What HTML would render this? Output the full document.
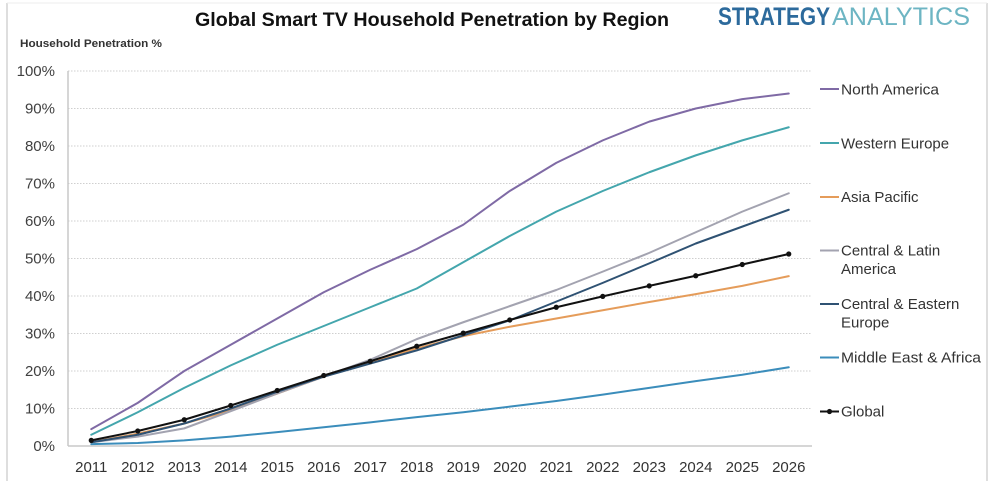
<!DOCTYPE html>
<html>
<head>
<meta charset="utf-8">
<style>
html,body{margin:0;padding:0;background:#fff;}
svg{display:block;}
text{font-family:"Liberation Sans",Arial,sans-serif;}
</style>
</head>
<body>
<svg width="1000" height="489" viewBox="0 0 1000 489" xmlns="http://www.w3.org/2000/svg">
  <rect width="1000" height="489" fill="#fff"/>
  <!-- frame -->
  <line x1="7" y1="3" x2="7" y2="481" stroke="#d4d4d4" stroke-width="1.5"/>
  <line x1="987" y1="3" x2="987" y2="481" stroke="#d4d4d4" stroke-width="1.5"/>
  <line x1="7" y1="3" x2="987" y2="3" stroke="#eeeeee" stroke-width="1"/>

  <!-- title -->
  <text x="195" y="26" font-size="19" font-weight="bold" fill="#111" textLength="474" lengthAdjust="spacingAndGlyphs">Global Smart TV Household Penetration by Region</text>
  <text x="718" y="25" font-size="25" font-weight="bold" fill="#2c6a9c" textLength="112" lengthAdjust="spacingAndGlyphs">STRATEGY</text>
  <text x="832" y="25" font-size="25" fill="#6db5c3" textLength="138" lengthAdjust="spacingAndGlyphs">ANALYTICS</text>
  <text x="20" y="47" font-size="11" font-weight="bold" fill="#333" textLength="142" lengthAdjust="spacingAndGlyphs">Household Penetration %</text>

  <!-- gridlines -->
  <g stroke="#cfcfcf" stroke-width="1" stroke-dasharray="1.5,1.5">
    <line x1="68" y1="71" x2="812" y2="71"/>
    <line x1="68" y1="108.5" x2="812" y2="108.5"/>
    <line x1="68" y1="146" x2="812" y2="146"/>
    <line x1="68" y1="183.5" x2="812" y2="183.5"/>
    <line x1="68" y1="221" x2="812" y2="221"/>
    <line x1="68" y1="258.5" x2="812" y2="258.5"/>
    <line x1="68" y1="296" x2="812" y2="296"/>
    <line x1="68" y1="333.5" x2="812" y2="333.5"/>
    <line x1="68" y1="371" x2="812" y2="371"/>
    <line x1="68" y1="408.5" x2="812" y2="408.5"/>
  </g>
  <line x1="68" y1="71" x2="68" y2="446" stroke="#c8c8c8" stroke-width="1.5"/>
  <line x1="68" y1="446" x2="812" y2="446" stroke="#c8c8c8" stroke-width="1.5"/>

  <!-- y labels -->
  <g font-size="15" fill="#404040" text-anchor="end">
    <text x="55" y="76">100%</text>
    <text x="55" y="113.5">90%</text>
    <text x="55" y="151">80%</text>
    <text x="55" y="188.5">70%</text>
    <text x="55" y="226">60%</text>
    <text x="55" y="263.5">50%</text>
    <text x="55" y="301">40%</text>
    <text x="55" y="338.5">30%</text>
    <text x="55" y="376">20%</text>
    <text x="55" y="413.5">10%</text>
    <text x="55" y="451">0%</text>
  </g>
  <!-- x labels -->
  <g font-size="15" fill="#333" text-anchor="middle">
    <text x="91.25" y="472">2011</text>
    <text x="137.75" y="472">2012</text>
    <text x="184.25" y="472">2013</text>
    <text x="230.75" y="472">2014</text>
    <text x="277.25" y="472">2015</text>
    <text x="323.75" y="472">2016</text>
    <text x="370.25" y="472">2017</text>
    <text x="416.75" y="472">2018</text>
    <text x="463.25" y="472">2019</text>
    <text x="509.75" y="472">2020</text>
    <text x="556.25" y="472">2021</text>
    <text x="602.75" y="472">2022</text>
    <text x="649.25" y="472">2023</text>
    <text x="695.75" y="472">2024</text>
    <text x="742.25" y="472">2025</text>
    <text x="788.75" y="472">2026</text>
  </g>

  <!-- series (data coords) -->
  <g transform="translate(91.25,446) scale(46.5,-3.75)" fill="none" stroke-width="2" stroke-linejoin="round" stroke-linecap="round">
    <!-- Middle East & Africa -->
    <polyline vector-effect="non-scaling-stroke" stroke="#3b8dbb" points="0,0.5 1,0.8 2,1.5 3,2.5 4,3.7 5,5 6,6.3 7,7.7 8,9 9,10.5 10,12 11,13.7 12,15.5 13,17.3 14,19 15,21"/>
    <!-- Asia Pacific -->
    <polyline vector-effect="non-scaling-stroke" stroke="#e59c5a" points="0,1 1,3.3 2,6 3,9.5 4,14 5,18.5 6,22.4 7,26 8,29.3 9,31.8 10,34 11,36.2 12,38.4 13,40.5 14,42.7 15,45.3"/>
    <!-- Central & Latin America -->
    <polyline vector-effect="non-scaling-stroke" stroke="#a3a3b0" points="0,1 1,2.5 2,4.7 3,9.3 4,14 5,18.5 6,23 7,28.5 8,33 9,37.3 10,41.6 11,46.5 12,51.5 13,57 14,62.5 15,67.4"/>
    <!-- Central & Eastern Europe -->
    <polyline vector-effect="non-scaling-stroke" stroke="#2f5273" points="0,1 1,3 2,6 3,10 4,14.5 5,18.5 6,22 7,25.5 8,29.5 9,33.5 10,38.5 11,43.5 12,48.7 13,54 14,58.5 15,63"/>
    <!-- Western Europe -->
    <polyline vector-effect="non-scaling-stroke" stroke="#44a6ad" points="0,3 1,9 2,15.5 3,21.5 4,27 5,32 6,37 7,42 8,49 9,56 10,62.5 11,68 12,73 13,77.5 14,81.5 15,85"/>
    <!-- North America -->
    <polyline vector-effect="non-scaling-stroke" stroke="#7f6aa5" points="0,4.5 1,11.5 2,20 3,27 4,34 5,41 6,47 7,52.5 8,59 9,68 10,75.5 11,81.5 12,86.5 13,90 14,92.5 15,94"/>
    <!-- Global -->
    <polyline vector-effect="non-scaling-stroke" stroke="#111" points="0,1.5 1,4 2,7 3,10.8 4,14.8 5,18.8 6,22.6 7,26.6 8,30.1 9,33.6 10,37 11,39.9 12,42.7 13,45.4 14,48.4 15,51.2"/>
  </g>
  <g fill="#111">
    <circle cx="91.25" cy="440.4" r="2.6"/>
    <circle cx="137.75" cy="431" r="2.6"/>
    <circle cx="184.25" cy="419.75" r="2.6"/>
    <circle cx="230.75" cy="405.5" r="2.6"/>
    <circle cx="277.25" cy="390.5" r="2.6"/>
    <circle cx="323.75" cy="375.5" r="2.6"/>
    <circle cx="370.25" cy="361.25" r="2.6"/>
    <circle cx="416.75" cy="346.25" r="2.6"/>
    <circle cx="463.25" cy="333.1" r="2.6"/>
    <circle cx="509.75" cy="320" r="2.6"/>
    <circle cx="556.25" cy="307.25" r="2.6"/>
    <circle cx="602.75" cy="296.4" r="2.6"/>
    <circle cx="649.25" cy="285.9" r="2.6"/>
    <circle cx="695.75" cy="275.75" r="2.6"/>
    <circle cx="742.25" cy="264.5" r="2.6"/>
    <circle cx="788.75" cy="254" r="2.6"/>
  </g>

  <!-- legend -->
  <g stroke-width="2">
    <line x1="820" y1="89" x2="839" y2="89" stroke="#7f6aa5"/>
    <line x1="820" y1="143" x2="839" y2="143" stroke="#44a6ad"/>
    <line x1="820" y1="197" x2="839" y2="197" stroke="#e59c5a"/>
    <line x1="820" y1="250.5" x2="839" y2="250.5" stroke="#a3a3b0"/>
    <line x1="820" y1="304" x2="839" y2="304" stroke="#2f5273"/>
    <line x1="820" y1="357.5" x2="839" y2="357.5" stroke="#3b8dbb"/>
    <line x1="820" y1="411.5" x2="839" y2="411.5" stroke="#111"/>
  </g>
  <circle cx="829.5" cy="411.5" r="2.6" fill="#111"/>
  <g font-size="15" fill="#333">
    <text x="841" y="94.5" textLength="98" lengthAdjust="spacingAndGlyphs">North America</text>
    <text x="841" y="148.5">Western Europe</text>
    <text x="841" y="202">Asia Pacific</text>
    <text x="841" y="255.5">Central &amp; Latin</text>
    <text x="841" y="274">America</text>
    <text x="841" y="309">Central &amp; Eastern</text>
    <text x="841" y="327.5">Europe</text>
    <text x="841" y="362.5" textLength="140" lengthAdjust="spacingAndGlyphs">Middle East &amp; Africa</text>
    <text x="841" y="416.5">Global</text>
  </g>
</svg>
</body>
</html>
